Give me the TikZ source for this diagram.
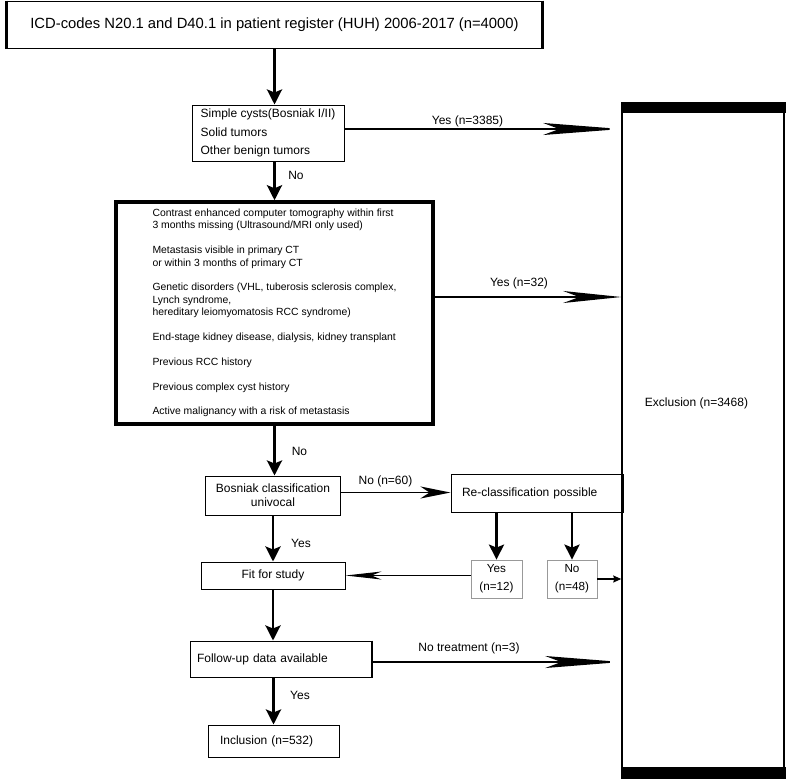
\documentclass[tikz,border=0pt]{standalone}
\usepackage{fontspec}
\setmainfont{Liberation Sans}
\usetikzlibrary{arrows.meta}
\tikzset{
  box/.style={draw,line width=1pt,inner sep=0pt,font=\fontsize{12}{14}\selectfont},
  smallbox/.style={draw=gray!80,line width=.8pt,inner sep=0pt,minimum height=38pt,align=center,font=\fontsize{11.7}{18}\selectfont},
  lbl/.style={inner sep=0pt,font=\fontsize{12}{14}\selectfont},
  downarr/.style={line width=2.8pt,-{Stealth[length=15pt,width=15pt,inset=3pt]}},
  longarr/.style={line width=1.8pt,-{Stealth[length=#1,width=12pt,inset=16pt]}},
  longarr/.default=70pt,
  midarr/.style={line width=1.8pt,-{Stealth[length=30pt,width=12pt,inset=9pt]}},
  thinarr/.style={line width=1.2pt,-{Stealth[length=36pt,width=8pt,inset=10pt]}},
  smallarr/.style={line width=1.2pt,-{Stealth[length=8pt,width=7pt,inset=1pt]}}
}
\begin{document}
\begin{tikzpicture}[x=1pt,y=-1pt]
\useasboundingbox (0,0) rectangle (787,780);
\node[box,minimum width=538pt,minimum height=47pt,font=\fontsize{14.8}{17}\selectfont](reg) at (274.5,24.5) {ICD-codes N20.1 and D40.1 in patient register (HUH) 2006-2017 (n=4000)};
\draw[line width=3.5pt]([xshift=1.5pt]reg.north west)--([xshift=1.5pt]reg.south west);
\draw[line width=3.5pt]([xshift=-1.5pt]reg.north east)--([xshift=-1.5pt]reg.south east);
\node[box,minimum width=152pt,minimum height=56pt,align=left,font=\fontsize{12}{18.5}\selectfont](simple) at (268,133) {Simple cysts(Bosniak I/II)\\Solid tumors\\Other benign tumors};
\node[box,line width=3.5pt,minimum width=317pt,minimum height=222pt,align=left,font=\fontsize{10.4}{12.4}\selectfont](crit) at (274.5,313) {Contrast enhanced computer tomography within first\\3 months missing (Ultrasound/MRI only used)\\[12.4pt]
Metastasis visible in primary CT\\or within 3 months of primary CT\\[12.4pt]
Genetic disorders (VHL, tuberosis sclerosis complex,\\Lynch syndrome,\\hereditary leiomyomatosis RCC syndrome)\\[12.4pt]
End-stage kidney disease, dialysis, kidney transplant\\[12.4pt]
Previous RCC history\\[12.4pt]
Previous complex cyst history\\[12.4pt]
Active malignancy with a risk of metastasis};
\node[box,minimum width=135pt,minimum height=39pt,align=center](bos) at (273,495.5) {Bosniak classification\\univocal};
\node[box,minimum width=172pt,minimum height=38pt,text width=150pt,inner xsep=11pt,align=left](reclass) at (537,493) {Re-classification possible};
\node[smallbox,minimum width=51pt](yes12) at (496.5,579) {Yes\\(n=12)};
\node[smallbox,minimum width=50pt](no48) at (572,579) {No\\(n=48)};
\node[box,minimum width=144pt,minimum height=27pt](fit) at (273,575.5) {Fit for study};
\node[box,minimum width=181pt,minimum height=36pt,text width=167pt,inner xsep=7pt,align=left](follow) at (280.5,659) {Follow-up data available};
\draw[line width=2pt](follow.north east)--(follow.south east);
\node[box,minimum width=131pt,minimum height=32pt,text width=107pt,inner xsep=12pt,align=left](incl) at (273.5,741) {Inclusion (n=532)};
\node[draw,line width=1.5pt,minimum width=162pt,minimum height=675pt](excl) at (703,440.5) {};
\fill([xshift=-.75pt]excl.north west) rectangle ([xshift=.75pt,yshift=-11pt]excl.north east);
\fill([xshift=-.75pt]excl.south west) rectangle ([xshift=.75pt,yshift=12pt]excl.south east);
\node[lbl](excltext) at (696.5,403) {Exclusion (n=3468)};
\draw[downarr](reg.south)--(reg.south |- simple.north);
\draw[downarr](crit.north |- simple.south)--(crit.north);
\draw[downarr](crit.south)--(crit.south |- bos.north);
\draw[downarr](bos.south)--(fit.north);
\draw[downarr](fit.south)--(fit.south |- follow.north);
\draw[downarr](incl.north |- follow.south)--(incl.north);
\draw[downarr](yes12.north |- reclass.south)--(yes12.north);
\draw[downarr](no48.north |- reclass.south)--(no48.north);
\draw[longarr=78pt]([yshift=4pt]simple.east)--([yshift=4pt]simple.east -| excl.west);
\draw[longarr=58pt]([yshift=16pt]crit.east)--([yshift=16pt]crit.east -| excl.west);
\draw[longarr=76pt]([yshift=-3pt]follow.east)--([yshift=-3pt]follow.east -| excl.west);
\draw[midarr]([yshift=3pt]bos.east)--([yshift=3pt]bos.east -| reclass.west);
\draw[thinarr](yes12.west |- fit.east)--(fit.east);
\draw[smallarr](no48.east)--(no48.east -| excl.west);
\node[lbl](l1) at (467.5,121) {Yes (n=3385)};
\node[lbl](l2) at (296,175) {No};
\node[lbl](l3) at (519,283) {Yes (n=32)};
\node[lbl](l4) at (299.5,451) {No};
\node[lbl](l5) at (385.5,481) {No (n=60)};
\node[lbl](l6) at (301,543) {Yes};
\node[lbl](l7) at (469,648) {No treatment (n=3)};
\node[lbl](l8) at (300,695) {Yes};
\end{tikzpicture}
\end{document}
